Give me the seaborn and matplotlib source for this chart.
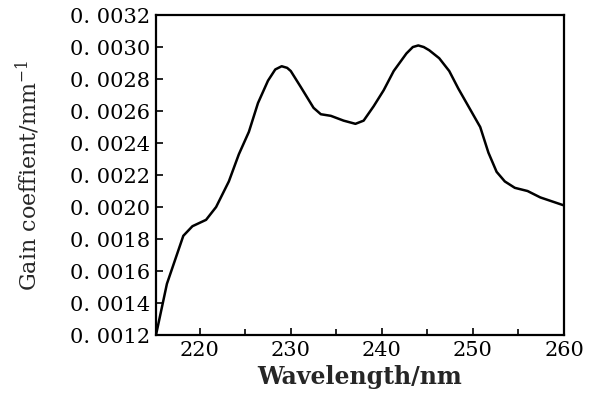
"""Gain coefficient spectrum versus wavelength."""
import matplotlib
matplotlib.use("Agg")
import matplotlib.pyplot as plt
from matplotlib.ticker import FuncFormatter, MultipleLocator
import pandas as pd
import seaborn as sns

# Curve.
wavelength = [
    215.2, 216.4, 218.2, 219.2, 220.7, 221.8, 223.2, 224.3, 225.4, 226.4,
    227.5, 228.3, 229.0, 229.6, 230.0, 231.1, 232.5, 233.3, 234.4, 235.8,
    237.1, 238.0, 239.1, 240.2, 241.3, 242.7, 243.4, 244.0, 244.6, 245.2,
    246.3, 247.4, 248.4, 249.7, 250.8, 251.7, 252.6, 253.5, 254.6, 256.0,
    257.4, 260.0,
]
gain = [
    0.00120, 0.00152, 0.00182, 0.00188, 0.00192, 0.00200, 0.00216, 0.00233,
    0.00247, 0.00265, 0.00279, 0.00286, 0.00288, 0.00287, 0.00285, 0.00275,
    0.00262, 0.00258, 0.00257, 0.00254, 0.00252, 0.00254, 0.00263, 0.00273,
    0.00285, 0.00296, 0.00300, 0.00301, 0.00300, 0.00298, 0.00293, 0.00285,
    0.00274, 0.00261, 0.00250, 0.00234, 0.00222, 0.00216, 0.00212, 0.00210,
    0.00206, 0.00201,
]
x_ticks = [220, 230, 240, 250, 260]

df = pd.DataFrame({"wavelength": wavelength, "gain": gain})

sns.set_style("ticks")
plt.rcParams["font.family"] = ["DejaVu Serif"]
plt.rcParams["mathtext.fontset"] = "dejavuserif"

fig = plt.figure(figsize=(6.06, 3.96), dpi=100)
ax = fig.add_axes([0.2574, 0.154, 0.6733, 0.808])

sns.lineplot(data=df, x="wavelength", y="gain", color="black",
             linewidth=1.8, ax=ax)

ax.set_xlim(215.2, 260)
ax.set_ylim(0.0012, 0.0032)
ax.set_xticks(x_ticks)
ax.xaxis.set_minor_locator(MultipleLocator(5))
ax.yaxis.set_major_locator(MultipleLocator(0.0002))
ax.yaxis.set_major_formatter(
    FuncFormatter(lambda v, p: f"{v:.4f}".replace(".", ". ")))

for side in ax.spines.values():
    side.set_linewidth(1.6)
    side.set_color("black")

ax.tick_params(axis="both", which="both", direction="in", top=False,
               right=False, width=1.2, colors="black", labelsize=15)
ax.tick_params(axis="both", which="major", length=5, pad=4)
ax.tick_params(axis="x", which="minor", length=4)

ax.set_xlabel("Wavelength/nm", fontsize=17, fontweight="bold", labelpad=4)
ax.set_ylabel("Gain coeffient/mm$^{-1}$", fontsize=16, labelpad=20)

fig.savefig("out.png", dpi=100)
